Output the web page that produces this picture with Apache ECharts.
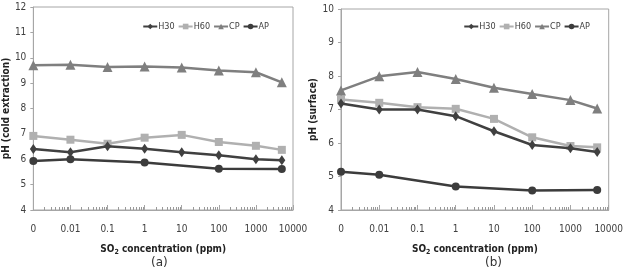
<!DOCTYPE html>
<html>
<head>
<meta charset="utf-8">
<script src="https://cdn.jsdelivr.net/npm/echarts@6/dist/echarts.min.js"></script>
<style>
  html, body { margin: 0; padding: 0; background: #fff; }
  #chart { width: 626px; height: 272px; }
</style>
</head>
<body>
<div id="chart"></div>
<script>
// SO2 浓度 (ppm)，最左边的 0.001 在图上标成 "0"
var conc = [0.001, 0.01, 0.1, 1, 10, 100, 1000, 5000];
var concAP = [0.001, 0.01, 1, 100, 5000];
var xTickLabels = ['0', '0.01', '0.1', '1', '10', '100', '1000', '10000'];

// (a) pH (cold extraction)
var h30A = [6.40, 6.28, 6.51, 6.41, 6.28, 6.16, 6.00, 5.96];
var h60A = [6.92, 6.77, 6.61, 6.85, 6.96, 6.68, 6.53, 6.37];
var cpA = [9.70, 9.72, 9.64, 9.66, 9.62, 9.50, 9.43, 9.03];
var apA = [5.93, 6.00, 5.87, 5.63, 5.62];

// (b) pH (surface)
var h30B = [7.18, 7.00, 7.00, 6.80, 6.35, 5.94, 5.84, 5.73];
var h60B = [7.30, 7.20, 7.07, 7.02, 6.72, 6.17, 5.91, 5.87];
var cpB = [7.57, 7.99, 8.12, 7.91, 7.65, 7.46, 7.28, 7.03];
var apB = [5.14, 5.05, 4.70, 4.58, 4.60];

var names = ['H30', 'H60', 'CP', 'AP'];

var font = "'Liberation Sans Narrow', 'DejaVu Sans Condensed', Arial, sans-serif";
var textColor = '#404040';
var lineGrey = '#a6a6a6';

// 对数轴的次刻度 2..9
var minorTicks = [];
for (var e = -3; e < 4; e++) {
    for (var k = 2; k <= 9; k++) {
        minorTicks.push(k * Math.pow(10, e));
    }
}

function pairs(xs, ys) {
    return xs.map(function (x, i) { return [x, ys[i]]; });
}

var styles = {
    H30: { color: '#404040', symbol: 'diamond', size: [7, 10] },
    H60: { color: '#b0b0b0', symbol: 'rect', size: 8 },
    CP: { color: '#7f7f7f', symbol: 'triangle', size: 10 },
    AP: { color: '#3c3c3c', symbol: 'circle', size: 8 }
};

function makeSeries(name, xs, ys, gridIdx) {
    var s = styles[name];
    return {
        name: name,
        type: 'line',
        xAxisIndex: gridIdx * 2,
        yAxisIndex: gridIdx,
        data: pairs(xs, ys),
        symbol: s.symbol,
        symbolSize: s.size,
        color: s.color,
        lineStyle: { width: 2.5, color: s.color },
        itemStyle: { color: s.color },
        z: name === 'H60' ? 2 : 3
    };
}

function xAxes(gridIdx) {
    return [{
        type: 'log',
        gridIndex: gridIdx,
        min: 0.001,
        max: 10000,
        logBase: 10,
        name: '{b|SO}{s|2}{b| concentration (ppm)}',
        nameLocation: 'middle',
        nameGap: 33,
        nameTextStyle: {
            rich: {
                b: { fontFamily: font, fontWeight: 'bold', fontSize: 10, color: '#222' },
                s: { fontFamily: font, fontWeight: 'bold', fontSize: 7, color: '#222', verticalAlign: 'bottom', padding: [6, 0, 0, 0] }
            }
        },
        axisLine: { lineStyle: { color: lineGrey, width: 1 } },
        axisTick: { inside: true, length: 5, lineStyle: { color: lineGrey } },
        axisLabel: {
            margin: 14,
            fontFamily: font,
            fontSize: 10,
            color: textColor,
            formatter: function (v) {
                var i = Math.round(Math.log10(v)) + 3;
                return xTickLabels[i];
            }
        },
        splitLine: { show: false }
    }, {
        type: 'log',
        gridIndex: gridIdx,
        min: 0.001,
        max: 10000,
        logBase: 10,
        position: 'bottom',
        axisLine: { show: false },
        axisTick: { inside: true, length: 3, customValues: minorTicks, lineStyle: { color: '#999' } },
        axisLabel: { show: false },
        splitLine: { show: false }
    }];
}

function yAxis(gridIdx, min, max, name) {
    return {
        type: 'value',
        gridIndex: gridIdx,
        min: min,
        max: max,
        interval: 1,
        name: name,
        nameLocation: 'middle',
        nameGap: 20,
        nameTextStyle: { fontFamily: font, fontWeight: 'bold', fontSize: 10, color: '#222' },
        axisLine: { show: true, lineStyle: { color: lineGrey } },
        axisTick: { show: true, length: 3, lineStyle: { color: lineGrey } },
        axisLabel: { margin: 7, fontFamily: font, fontSize: 10, color: textColor },
        splitLine: { show: false }
    };
}

function legend(right) {
    return {
        data: names,
        right: right,
        top: 17,
        width: 200,
        itemWidth: 14,
        itemHeight: 7,
        itemGap: 3,
        textStyle: { fontFamily: font, fontSize: 9, color: textColor, padding: [0, 0, 0, -4] },
        selectedMode: false
    };
}

var myChart = echarts.init(document.getElementById('chart'));

var option = {
    animation: false,
    backgroundColor: '#fff',
    grid: [
        { left: 27, top: 7, width: 266, height: 203, show: true, borderColor: lineGrey, borderWidth: 1 },
        { left: 341, top: 9, width: 271, height: 201, show: true, borderColor: lineGrey, borderWidth: 1 }
    ],
    title: [
        { text: '(a)', left: 146, top: 252, textStyle: { fontFamily: 'DejaVu Sans', fontSize: 12, fontWeight: 'normal', color: '#333' } },
        { text: '(b)', left: 480, top: 252, textStyle: { fontFamily: 'DejaVu Sans', fontSize: 12, fontWeight: 'normal', color: '#333' } }
    ],
    legend: [legend(352), legend(31)],
    xAxis: xAxes(0).concat(xAxes(1)),
    yAxis: [
        yAxis(0, 4, 12, 'pH (cold extraction)'),
        yAxis(1, 4, 10, 'pH (surface)')
    ],
    series: [
        makeSeries('H30', conc, h30A, 0),
        makeSeries('H60', conc, h60A, 0),
        makeSeries('CP', conc, cpA, 0),
        makeSeries('AP', concAP, apA, 0),
        makeSeries('H30', conc, h30B, 1),
        makeSeries('H60', conc, h60B, 1),
        makeSeries('CP', conc, cpB, 1),
        makeSeries('AP', concAP, apB, 1)
    ]
};

myChart.setOption(option);
</script>
</body>
</html>
